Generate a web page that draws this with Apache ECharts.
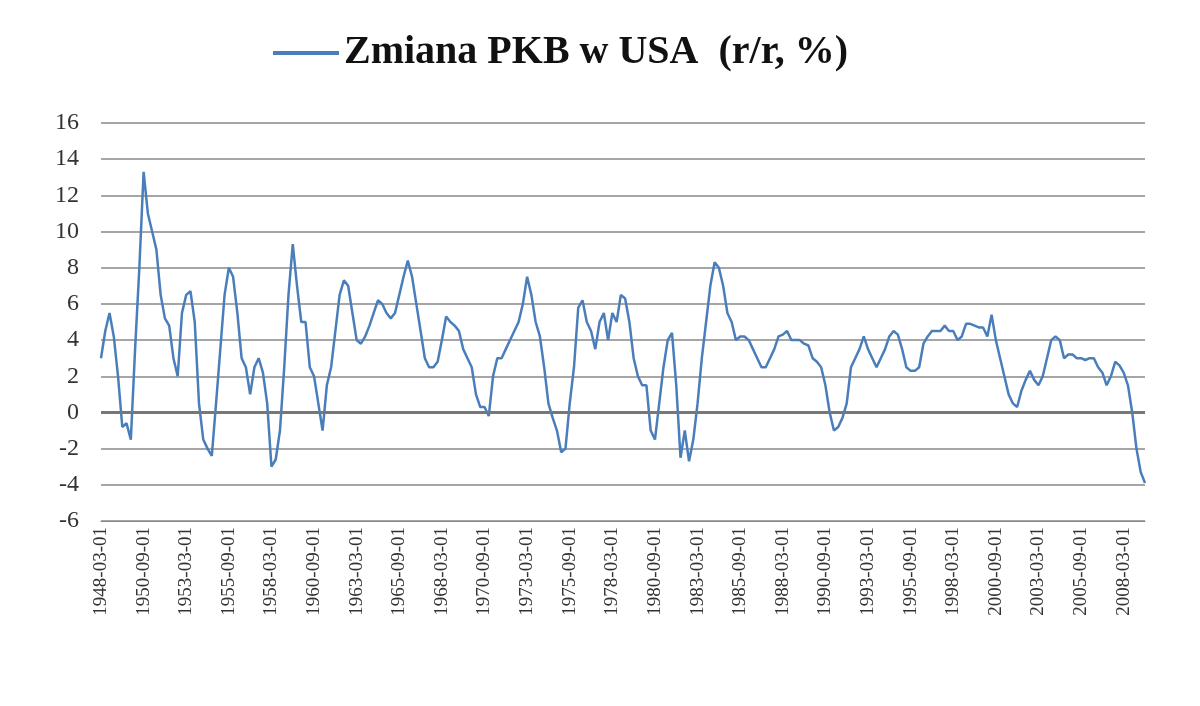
<!DOCTYPE html>
<html><head><meta charset="utf-8">
<script src="https://cdn.jsdelivr.net/npm/echarts@6/dist/echarts.min.js"></script>
<style>html,body{margin:0;padding:0;background:#fff}#c{width:1200px;height:706px}</style>
</head><body><div id="c"></div>
<script>
const startYear = 1948;
const months = ['03','06','09','12'];
const values = [
3.0,4.5,5.5,4.2, 2.0,-0.8,-0.6,-1.5, 3.5,8.0,13.3,11.0, 10.0,9.0,6.5,5.2,
4.8,3.0,2.0,5.5, 6.5,6.7,5.0,0.5, -1.5,-2.0,-2.4,0.5, 3.5,6.5,8.0,7.5,
5.5,3.0,2.5,1.0, 2.5,3.0,2.2,0.5, -3.0,-2.6,-1.0,2.5, 6.5,9.3,7.0,5.0,
5.0,2.5,2.0,0.5, -1.0,1.5,2.5,4.5, 6.5,7.3,7.0,5.5, 4.0,3.8,4.2,4.8,
5.5,6.2,6.0,5.5, 5.2,5.5,6.5,7.5, 8.4,7.5,6.0,4.5, 3.0,2.5,2.5,2.8,
4.0,5.3,5.0,4.8, 4.5,3.5,3.0,2.5, 1.0,0.3,0.3,-0.2, 2.0,3.0,3.0,3.5,
4.0,4.5,5.0,6.0, 7.5,6.5,5.0,4.2, 2.5,0.5,-0.3,-1.0, -2.2,-2.0,0.5,2.5,
5.8,6.2,5.0,4.5, 3.5,5.0,5.5,4.0, 5.5,5.0,6.5,6.3, 5.0,3.0,2.0,1.5,
1.5,-1.0,-1.5,0.5, 2.5,4.0,4.4,1.5, -2.5,-1.0,-2.7,-1.5, 0.5,3.0,5.0,7.0,
8.3,8.0,7.0,5.5, 5.0,4.0,4.2,4.2, 4.0,3.5,3.0,2.5, 2.5,3.0,3.5,4.2,
4.3,4.5,4.0,4.0, 4.0,3.8,3.7,3.0, 2.8,2.5,1.5,0.0, -1.0,-0.8,-0.3,0.5,
2.5,3.0,3.5,4.2, 3.5,3.0,2.5,3.0, 3.5,4.2,4.5,4.3, 3.5,2.5,2.3,2.3,
2.5,3.8,4.2,4.5, 4.5,4.5,4.8,4.5, 4.5,4.0,4.2,4.9, 4.9,4.8,4.7,4.7,
4.2,5.4,4.0,3.0, 2.0,1.0,0.5,0.3, 1.2,1.8,2.3,1.8, 1.5,2.0,3.0,4.0,
4.2,4.0,3.0,3.2, 3.2,3.0,3.0,2.9, 3.0,3.0,2.5,2.2, 1.5,2.0,2.8,2.6,
2.2,1.5,0.0,-2.0, -3.3,-3.9
];
const categories = values.map((v,i)=> (startYear+Math.floor(i/4))+'-'+months[i%4]+'-01');
const chart = echarts.init(document.getElementById('c'));
const serif = '"Liberation Serif","DejaVu Serif",serif';
chart.setOption({
  animation:false,
  legend:{top:28,left:268,itemWidth:66,itemHeight:4,itemGap:12,
    textStyle:{fontFamily:serif,fontSize:40,fontWeight:'bold',color:'#111'},
    data:[{name:'Zmiana PKB w USA  (r/r, %)',icon:'rect'}]},
  grid:{left:101,right:55,top:123,bottom:185},
  xAxis:{type:'category',data:categories,boundaryGap:false,
    axisLine:{onZero:false,lineStyle:{color:'#888'}},axisTick:{show:false},
    axisLabel:{interval:9,rotate:90,fontFamily:serif,fontSize:19,color:'#333',margin:6}},
  yAxis:{type:'value',min:-6,max:16,interval:2,
    axisLine:{show:false},axisTick:{show:false},
    axisLabel:{fontFamily:serif,fontSize:24,color:'#333',margin:22},
    splitLine:{lineStyle:{color:'#888',width:1.5}}},
  series:[{name:'Zmiana PKB w USA  (r/r, %)',type:'line',data:values,showSymbol:false,
    lineStyle:{color:'#4a7ebb',width:2.5},itemStyle:{color:'#4a7ebb'},
    markLine:{silent:true,symbol:'none',label:{show:false},
      lineStyle:{color:'#777',width:3,type:'solid'},data:[{yAxis:0}]}}]
});
</script></body></html>
